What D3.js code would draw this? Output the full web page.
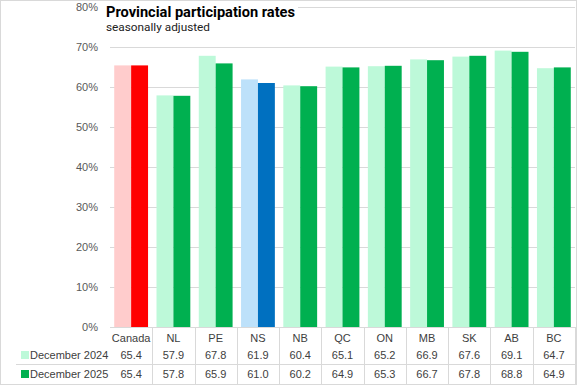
<!DOCTYPE html>
<html>
<head>
<meta charset="utf-8">
<script src="https://cdn.jsdelivr.net/npm/d3@7"></script>
<style>
  body { margin: 0; background: #fff; }
  svg { display: block; font-family: "Liberation Sans", Arial, sans-serif; }
</style>
</head>
<body>
<div id="chart"></div>
<script>
const CATEGORIES = ["Canada", "NL", "PE", "NS", "NB", "QC", "ON", "MB", "SK", "AB", "BC"];
const DEC_2024 = [65.4, 57.9, 67.8, 61.9, 60.4, 65.1, 65.2, 66.9, 67.6, 69.1, 64.7];
const DEC_2025 = [65.4, 57.8, 65.9, 61.0, 60.2, 64.9, 65.3, 66.7, 67.8, 68.8, 64.9];
const SERIES_NAMES = ["December 2024", "December 2025"];
const Y_TICKS = [0, 10, 20, 30, 40, 50, 60, 70, 80];

const WIDTH = 577, HEIGHT = 385;
const PLOT = { left: 110, right: 575, top: 7, bottom: 327 };

// colour per category / series: Canada red, NS blue, the rest green
const lightColor = c => c === "Canada" ? "#ffcccc" : c === "NS" ? "#bde1fa" : "#bdf9d9";
const darkColor = c => c === "Canada" ? "#ff0000" : c === "NS" ? "#0070c0" : "#00b050";
const LEGEND_COLORS = ["#bdf9d9", "#00b050"];

const svg = d3.select("#chart").append("svg")
  .attr("width", WIDTH)
  .attr("height", HEIGHT);

svg.append("rect")
  .attr("x", 0.5).attr("y", 0.5)
  .attr("width", WIDTH - 1).attr("height", HEIGHT - 1)
  .attr("fill", "#fff").attr("stroke", "#d9d9d9");

const x = d3.scaleBand()
  .domain(CATEGORIES)
  .range([PLOT.left, PLOT.right])
  .paddingInner(0.2)
  .paddingOuter(0.1);

const colW = (PLOT.right - PLOT.left) / CATEGORIES.length;
const xInner = d3.scaleBand().domain([0, 1]).range([0, x.bandwidth()]);
const y = d3.scaleLinear().domain([0, 80]).range([PLOT.bottom, PLOT.top]);

// gridlines
svg.append("g")
  .selectAll("line")
  .data(Y_TICKS.slice(1))
  .join("line")
  .attr("x1", PLOT.left).attr("x2", PLOT.right)
  .attr("y1", d => Math.round(y(d)) + 0.5).attr("y2", d => Math.round(y(d)) + 0.5)
  .attr("stroke", "#d9d9d9");

// y axis labels
svg.append("g")
  .selectAll("text")
  .data(Y_TICKS)
  .join("text")
  .attr("x", 98)
  .attr("y", d => y(d) + 4)
  .attr("text-anchor", "end")
  .attr("font-size", 11)
  .attr("fill", "#595959")
  .text(d => d + "%");

// bars
const groups = svg.append("g")
  .selectAll("g")
  .data(CATEGORIES.map((c, i) => ({ c, vals: [DEC_2024[i], DEC_2025[i]] })))
  .join("g")
  .attr("transform", d => `translate(${x(d.c)},0)`);

groups.selectAll("rect")
  .data(d => d.vals.map((v, k) => ({ c: d.c, v, k })))
  .join("rect")
  .attr("x", d => xInner(d.k))
  .attr("width", xInner.bandwidth())
  .attr("y", d => y(d.v))
  .attr("height", d => y(0) - y(d.v))
  .attr("fill", d => d.k === 0 ? lightColor(d.c) : darkColor(d.c));

// axis line
svg.append("line")
  .attr("x1", PLOT.left).attr("x2", PLOT.right)
  .attr("y1", PLOT.bottom + 0.5).attr("y2", PLOT.bottom + 0.5)
  .attr("stroke", "#d9d9d9");

// data table
const table = svg.append("g");
const rowY = [PLOT.bottom + 15, PLOT.bottom + 32, PLOT.bottom + 51];

table.selectAll("line.vline")
  .data(d3.range(1, CATEGORIES.length + 1))
  .join("line")
  .attr("class", "vline")
  .attr("x1", i => Math.round(PLOT.left + i * colW) + 0.5)
  .attr("x2", i => Math.round(PLOT.left + i * colW) + 0.5)
  .attr("y1", PLOT.bottom).attr("y2", HEIGHT - 1)
  .attr("stroke", "#d9d9d9");

table.append("line")
  .attr("x1", 16).attr("x2", PLOT.right)
  .attr("y1", 364.5).attr("y2", 364.5)
  .attr("stroke", "#d9d9d9");

table.selectAll("text.cat")
  .data(CATEGORIES)
  .join("text")
  .attr("class", "cat")
  .attr("x", c => x(c) + x.bandwidth() / 2)
  .attr("y", rowY[0])
  .attr("text-anchor", "middle")
  .attr("font-size", 11)
  .attr("fill", "#404040")
  .text(c => c);

[DEC_2024, DEC_2025].forEach((vals, k) => {
  table.selectAll(`text.v${k}`)
    .data(vals)
    .join("text")
    .attr("class", `v${k}`)
    .attr("x", (v, i) => x(CATEGORIES[i]) + x.bandwidth() / 2)
    .attr("y", rowY[k + 1])
    .attr("text-anchor", "middle")
    .attr("font-size", 11)
    .attr("fill", "#404040")
    .text(v => v.toFixed(1));

  table.append("rect")
    .attr("x", 21).attr("y", rowY[k + 1] - 8)
    .attr("width", 8).attr("height", 8)
    .attr("fill", LEGEND_COLORS[k]);

  table.append("text")
    .attr("x", 30)
    .attr("y", rowY[k + 1])
    .attr("font-size", 11)
    .attr("fill", "#404040")
    .text(SERIES_NAMES[k]);
});

// title block
svg.append("rect")
  .attr("x", 104).attr("y", 3)
  .attr("width", 194).attr("height", 30)
  .attr("fill", "#fff");

svg.append("text")
  .attr("x", 106).attr("y", 17)
  .attr("font-family", "Roboto, sans-serif")
  .attr("font-weight", "bold")
  .attr("font-size", 15)
  .attr("fill", "#000")
  .attr("textLength", 189)
  .attr("lengthAdjust", "spacingAndGlyphs")
  .text("Provincial participation rates");

svg.append("text")
  .attr("x", 106).attr("y", 30.5)
  .attr("font-family", "Roboto, sans-serif")
  .attr("font-size", 11)
  .attr("fill", "#222")
  .attr("textLength", 104)
  .attr("lengthAdjust", "spacingAndGlyphs")
  .text("seasonally adjusted");
</script>
</body>
</html>
